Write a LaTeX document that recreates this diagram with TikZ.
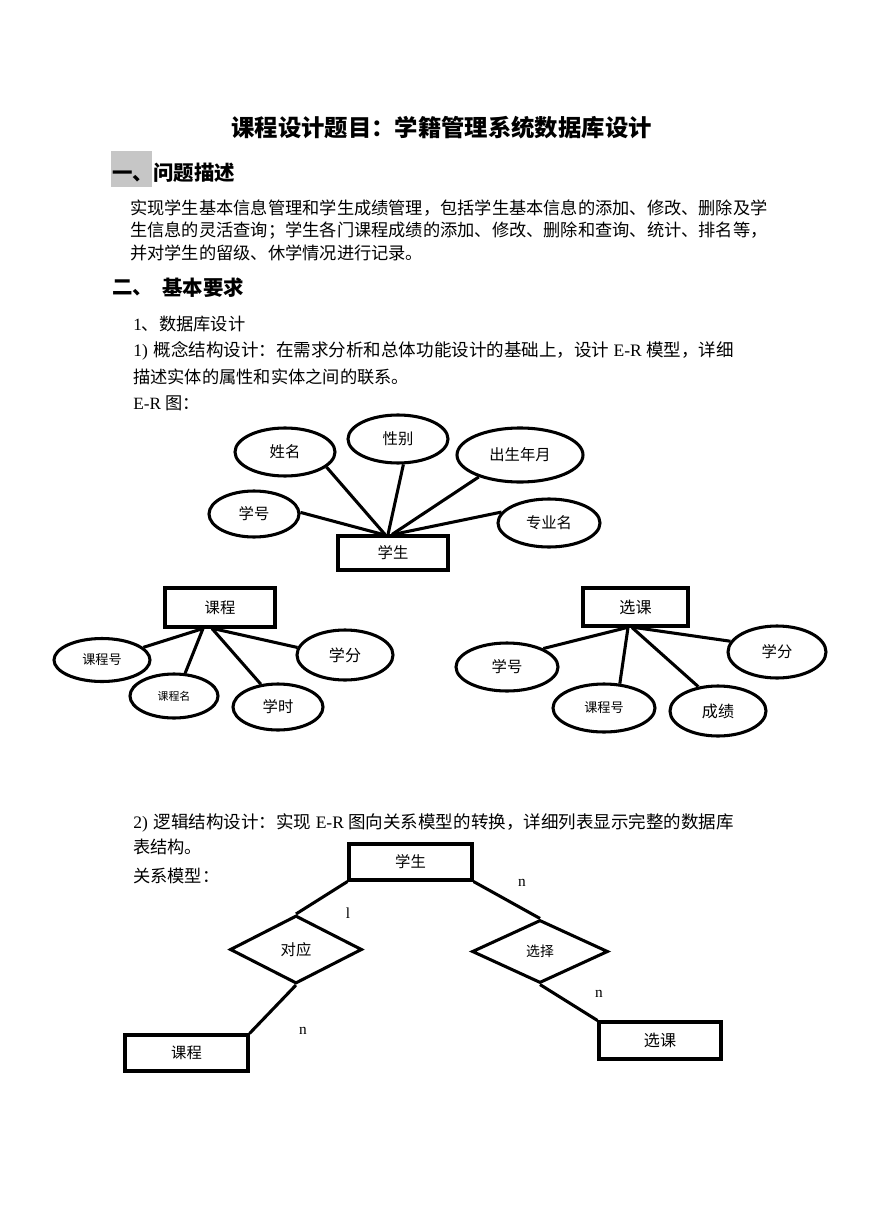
\documentclass[tikz,border=0pt]{standalone}
\usepackage{fontspec}
\setmainfont{Liberation Serif}
\newfontfamily\cjk{Noto Sans CJK SC}
\usetikzlibrary{shapes.geometric,calc}
\newcommand\fs[1]{\fontsize{#1}{#1}\selectfont}
\begin{document}
\begin{tikzpicture}[x=0.685pt,y=-0.685pt,
  txt/.style={anchor=west,inner sep=0pt,font=\fs{11.8pt}},
  hd/.style={anchor=west,inner sep=0pt,font=\fs{14pt}\cjk\bfseries},
  ent/.style n args={2}{draw,line width=2.1pt,rectangle,inner sep=0pt,minimum width=#1*0.685pt,minimum height=#2*0.685pt,font=\fs{10.5pt}\cjk},
  attr/.style n args={2}{draw,line width=2.1pt,ellipse,inner sep=0pt,minimum width=#1*0.685pt,minimum height=#2*0.685pt,font=\fs{10.5pt}\cjk},
  rel/.style n args={2}{draw,line width=2.1pt,diamond,inner sep=0pt,minimum width=#1*0.685pt,minimum height=#2*0.685pt,font=\fs{10.5pt}\cjk},
  conn/.style={line width=2.1pt},
  card/.style={inner sep=0pt,font=\fs{10.5pt}}
]
\useasboundingbox (0,0) rectangle (869,1228);
\fill[white] (0,0) rectangle (869,1228);

% ---- text ----
\node[inner sep=0pt,font=\fs{16pt}\cjk\bfseries] (title) at (441.5,128) {课程设计题目：学籍管理系统数据库设计};
\fill[gray!45] (111,151) rectangle (152,187);
\node[hd] (h1) at (112,173) {一、问题描述};
\node[txt] (p1) at (130,208) {\cjk 实现学生基本信息管理和学生成绩管理，包括学生基本信息的添加、修改、删除及学};
\node[txt] (p2) at (130,231) {\cjk 生信息的灵活查询；学生各门课程成绩的添加、修改、删除和查询、统计、排名等，};
\node[txt] (p3) at (130,253) {\cjk 并对学生的留级、休学情况进行记录。};
\node[hd] (h2a) at (112,288) {二、};
\node[hd] (h2b) at (162,288) {基本要求};
\node[txt] (t1) at (133,324) {1{\cjk 、数据库设计}};
\node[txt,font=\fs{12pt}] (t2) at (133,351) {1)\hspace{4pt}{\cjk 概念结构设计：在需求分析和总体功能设计的基础上，设计} E-R {\cjk 模型，详细}};
\node[txt] (t3) at (133,377) {\cjk 描述实体的属性和实体之间的联系。};
\node[txt] (t4) at (133,403) {E-R {\cjk 图：}};
\node[txt,font=\fs{12pt}] (t5) at (133,823) {2)\hspace{4pt}{\cjk 逻辑结构设计：实现} E-R {\cjk 图向关系模型的转换，详细列表显示完整的数据库}};
\node[txt] (t6) at (133,847) {\cjk 表结构。};
\node[txt] (t7) at (133,876) {\cjk 关系模型：};

% ---- E-R: student ----
\node[ent={110}{34}] (xs) at (393,553) {学生};
\node[attr={100}{48}] (xm) at (285,452) {姓名};
\node[attr={100}{48}] (xb) at (398,439) {性别};
\node[attr={126}{54}] (cs) at (520,455) {出生年月};
\node[attr={90}{46}] (xh) at (254,514) {学号};
\node[attr={102}{48}] (zy) at (549,523) {专业名};
\draw[conn] (xh.2) -- ($(xs.north)+(-10,0)$);
\draw[conn] (xm.-20) -- ($(xs.north)+(-8,0)$);
\draw[conn] (xb.-78) -- ($(xs.north)+(-5,0)$);
\draw[conn] (cs.208) -- ($(xs.north)+(-1,0)$);
\draw[conn] (zy.167) -- ($(xs.north)+(0,0)$);

% ---- E-R: course ----
\node[ent={110}{39}] (kc) at (220,607.5) {课程};
\node[attr={96}{43},font=\fs{9pt}\cjk] (kch) at (102,660) {课程号};
\node[attr={88}{44},font=\fs{7.5pt}\cjk] (kcm) at (174,696) {课程名};
\node[attr={90}{46}] (xsh) at (278,707) {学时};
\node[attr={96}{50},font=\fs{11pt}\cjk] (xf) at (345,655) {学分};
\draw[conn] (kch.17) -- ($(kc.south)+(-17,0)$);
\draw[conn] (kcm.64) -- ($(kc.south)+(-17,0)$);
\draw[conn] (xsh.127) -- ($(kc.south)+(-8,0)$);
\draw[conn] (xf.171) -- ($(kc.south)+(-7,0)$);

% ---- E-R: selection ----
\node[ent={105}{38},font=\fs{11pt}\cjk] (xk) at (635.5,607) {选课};
\node[attr={102}{48}] (xh2) at (507,667) {学号};
\node[attr={102}{48},font=\fs{9pt}\cjk] (kch2) at (604,708) {课程号};
\node[attr={96}{50},font=\fs{11pt}\cjk] (cj) at (718,711) {成绩};
\node[attr={98}{52}] (xf2) at (777,652) {学分};
\draw[conn] (xh2.27) -- ($(xk.south)+(-8.5,0)$);
\draw[conn] (kch2.57) -- ($(xk.south)+(-7.5,0)$);
\draw[conn] (cj.129) -- ($(xk.south)+(-3.5,0)$);
\draw[conn] (xf2.167) -- ($(xk.south)+(-0.5,0)$);

% ---- relation model ----
\node[ent={123}{36}] (s2) at (410.5,862) {学生};
\node[rel={132}{68}] (dy) at (296,949.5) {对应};
\node[rel={136}{63},font=\fs{9.5pt}\cjk] (xz) at (540,951.5) {选择};
\node[ent={123}{36}] (kc2) at (186.5,1053) {课程};
\node[ent={122}{37},font=\fs{11pt}\cjk] (xk2) at (660,1040.5) {选课};
\draw[conn] (s2.south west) -- (dy.north);
\draw[conn] (dy.south) -- (kc2.north east);
\draw[conn] (s2.south east) -- (xz.north);
\draw[conn] (xz.south) -- (xk2.north west);
\node[card] (c1) at (348,913) {l};
\node[card] (c2) at (522,883) {n};
\node[card] (c3) at (303,1031) {n};
\node[card] (c4) at (599,994) {n};
\end{tikzpicture}
\end{document}
